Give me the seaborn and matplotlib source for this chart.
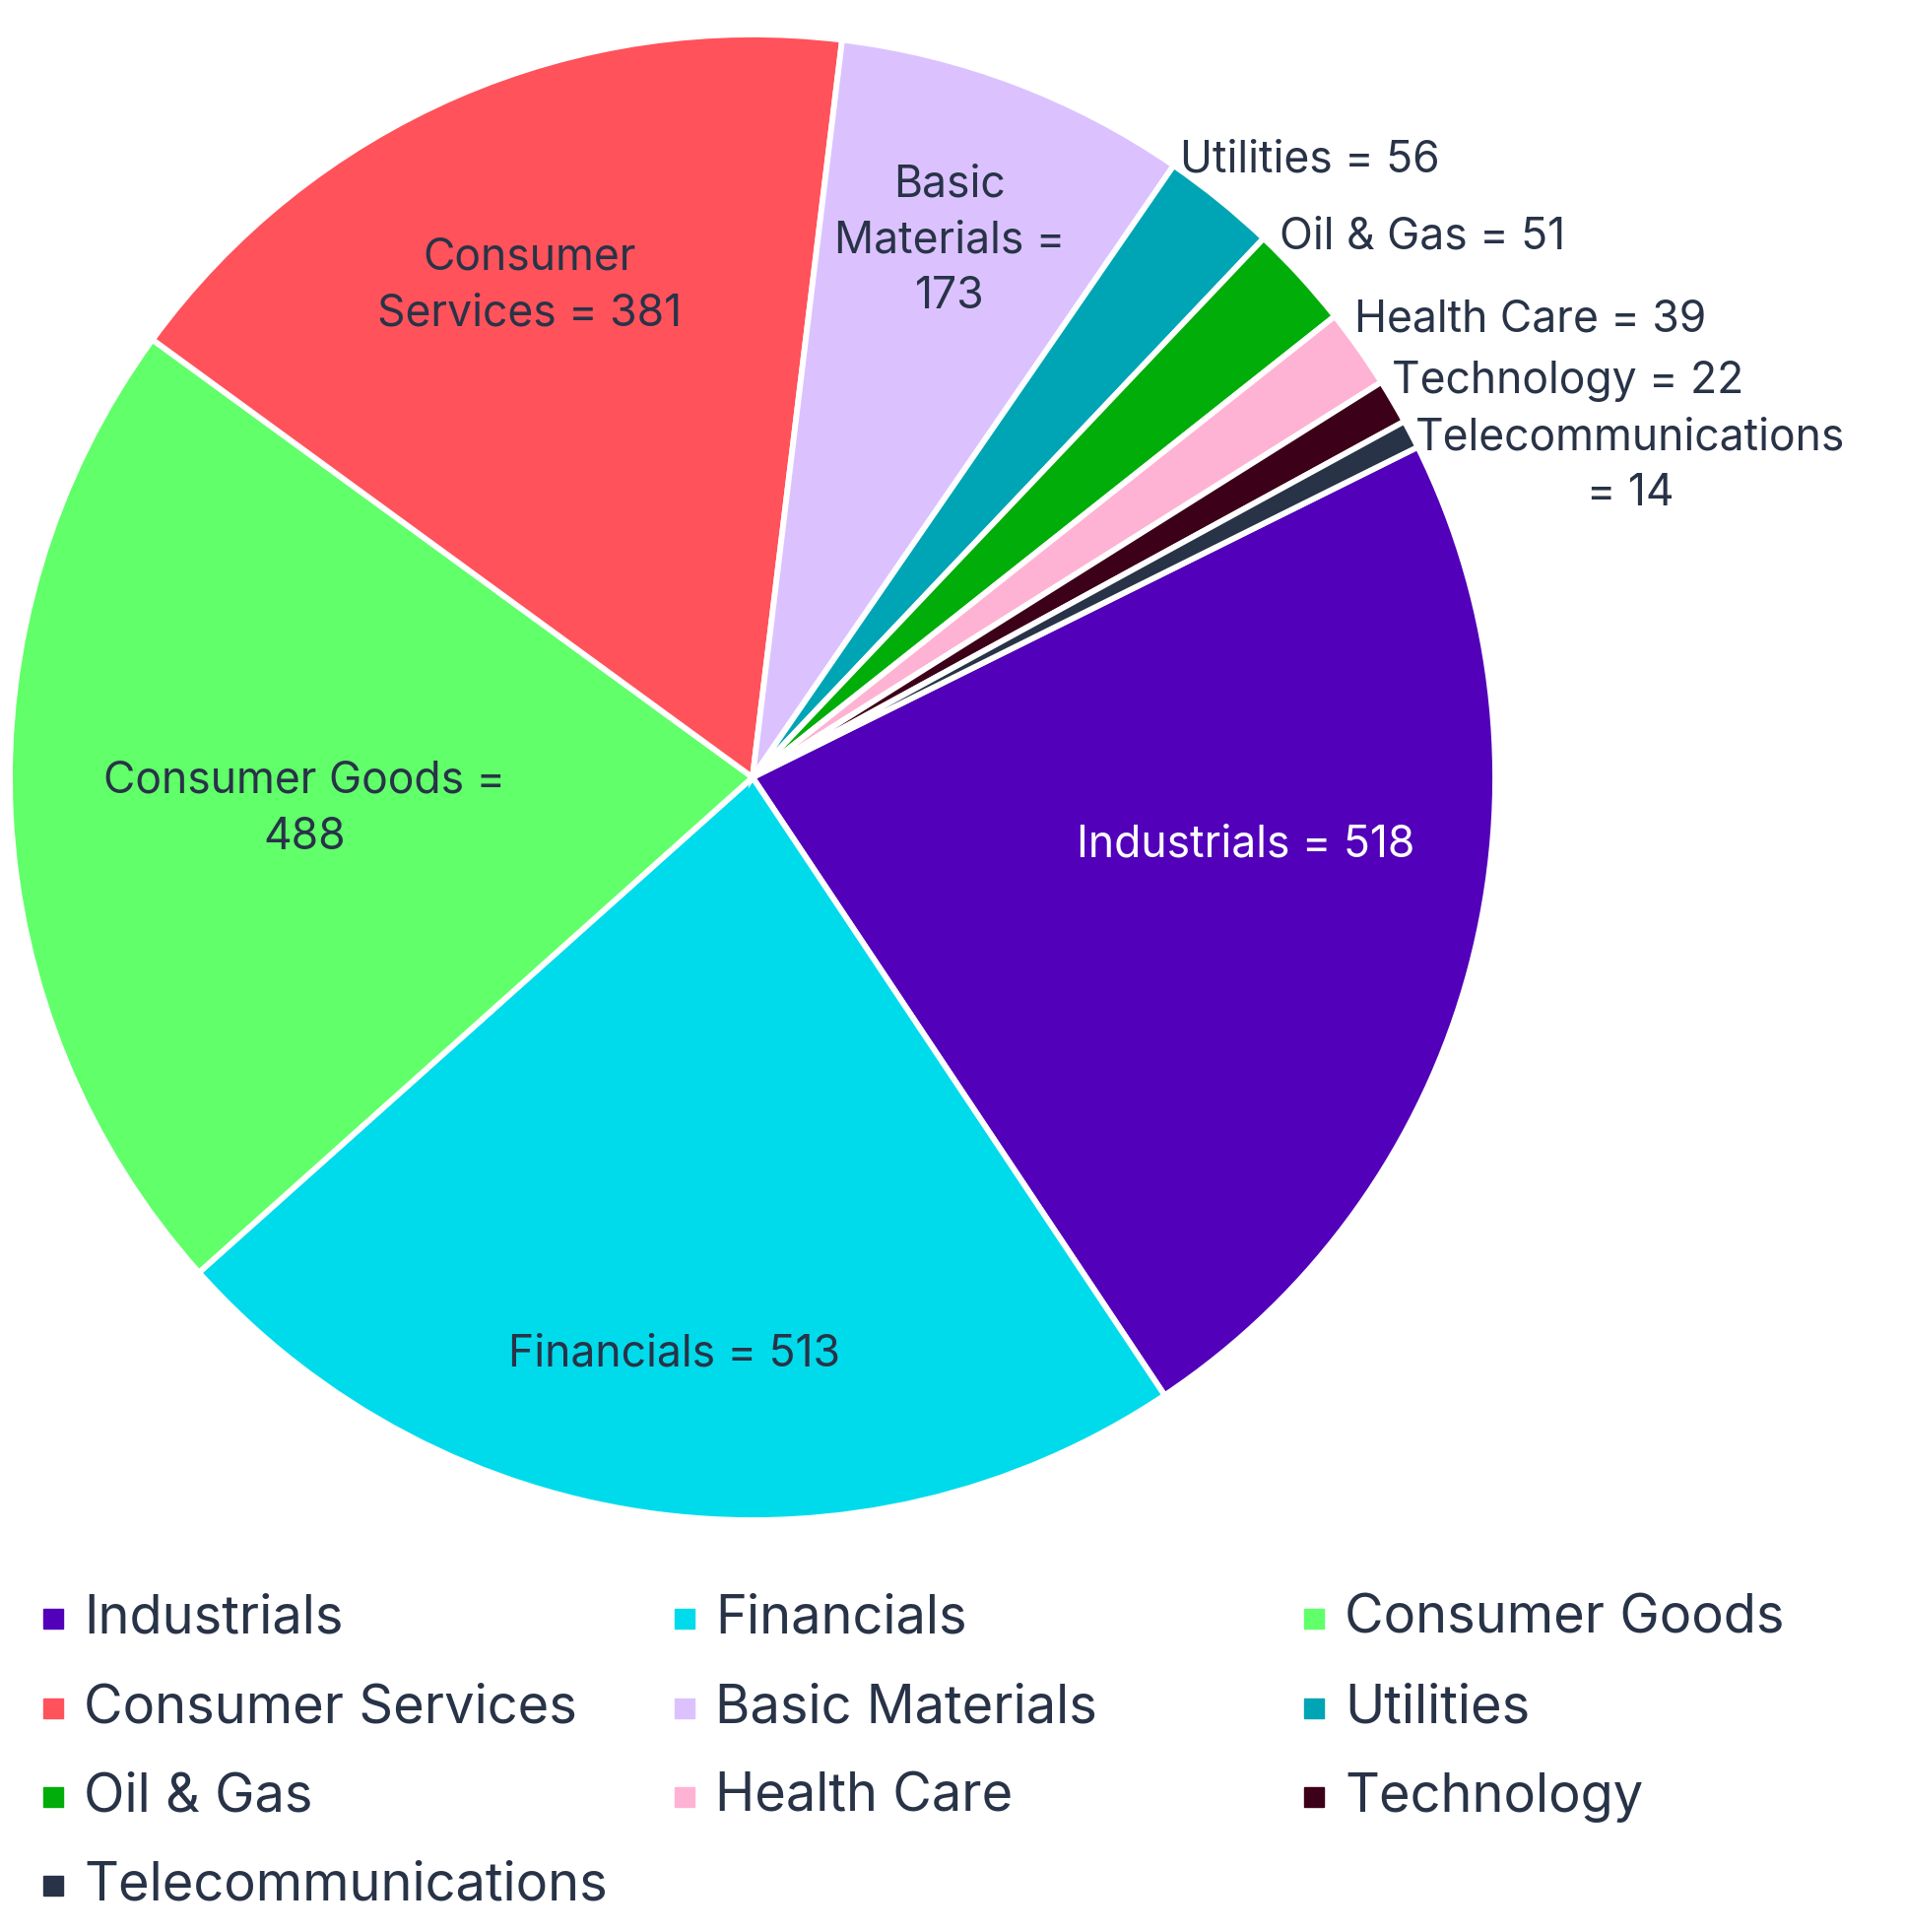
import matplotlib
matplotlib.use("Agg")
import matplotlib.pyplot as plt
from matplotlib.patches import Rectangle
import seaborn as sns

sectors = ["Industrials", "Financials", "Consumer Goods", "Consumer Services",
           "Basic Materials", "Utilities", "Oil & Gas", "Health Care",
           "Technology", "Telecommunications"]
counts = [518, 513, 488, 381, 173, 56, 51, 39, 22, 14]
hex_colors = ["#5200ba", "#00dbeb", "#61ff69", "#ff525a", "#dbc2ff",
              "#00a5b5", "#00ad09", "#ffb3d4", "#3d0019", "#283347"]

# slice label text, wrapped as in the original
label_text = ["Industrials = 518", "Financials = 513", "Consumer Goods =\n488",
              "Consumer\nServices = 381", "Basic\nMaterials =\n173",
              "Utilities = 56", "Oil & Gas = 51", "Health Care = 39",
              "Technology = 22", "Telecommunications\n= 14"]

sns.set_theme(style="white")
plt.rcParams["font.family"] = ["Inter", "DejaVu Sans"]
text_color = "#283347"
palette = sns.color_palette(hex_colors)

W, H = 1934, 1961
cx, cy, R = 764, 789, 754
fig = plt.figure(figsize=(W / 100, H / 100), dpi=100)
ax = fig.add_axes([0, 0, 1, 1])

start = 26.4
ax.pie(counts, colors=palette, startangle=start, counterclock=False,
       radius=1, wedgeprops=dict(edgecolor="white", linewidth=4.2))
ax.set_xlim(-cx / R, (W - cx) / R)
ax.set_ylim((cy - H) / R, cy / R)
ax.set_aspect("equal")
ax.axis("off")

# label placement (layout only)
label_pos = [(0.664, -0.091, "center"), (-0.106, -0.777, "center"),
             (-0.603, -0.043, "center"), (-0.300, 0.662, "center"),
             (0.265, 0.722, "center"), (0.576, 0.831, "left"),
             (0.709, 0.727, "left"), (0.811, 0.616, "left"),
             (0.861, 0.533, "left"), (1.182, 0.419, "center")]
for i, (txt, (x, y, ha)) in enumerate(zip(label_text, label_pos)):
    col = "white" if i == 0 else text_color
    ax.text(x, y, txt, ha=ha, va="center", multialignment="center",
            fontsize=32, color=col, linespacing=1.45)

# legend laid out in rows of three like the source
col_x = [44, 685, 1324]
row_y = [1643, 1734, 1824, 1914]
box = 20
for i, name in enumerate(sectors):
    r, c = divmod(i, 3)
    px, py = col_x[c], row_y[r]
    fig.patches.append(Rectangle((px / W, 1 - (py + box / 2) / H), box / W, box / H,
                                 transform=fig.transFigure, color=palette[i]))
    fig.text((px + 41) / W, 1 - py / H, name, ha="left", va="center",
             fontsize=39, color=text_color)

fig.savefig("out.png", dpi=100)
